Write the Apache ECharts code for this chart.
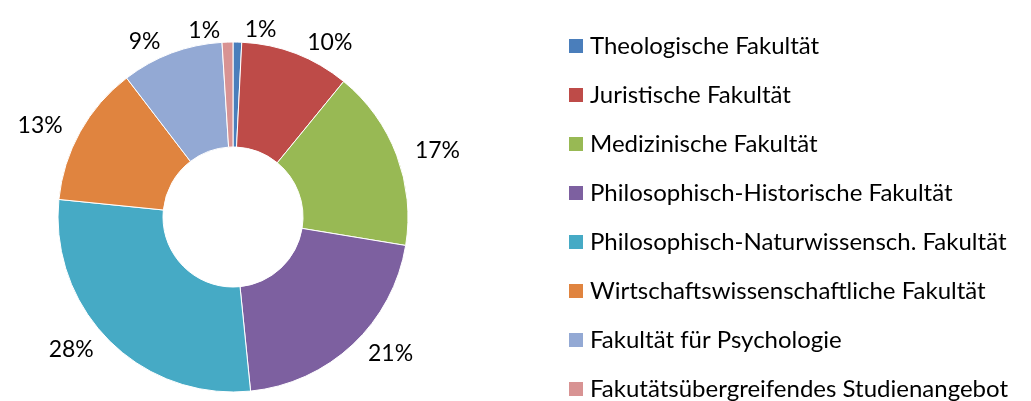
<!DOCTYPE html>
<html><head><meta charset="utf-8">
<script src="https://cdn.jsdelivr.net/npm/echarts@6/dist/echarts.min.js"></script>
<style>html,body{margin:0;padding:0;background:#fff}#c{width:1031px;height:401px}</style>
</head><body><div id="c"></div>
<script>
const categories = ["Theologische Fakultät","Juristische Fakultät","Medizinische Fakultät","Philosophisch-Historische Fakultät","Philosophisch-Naturwissensch. Fakultät","Wirtschaftswissenschaftliche Fakultät","Fakultät für Psychologie","Fakutätsübergreifendes Studienangebot"];
const values = [0.8, 10.1, 16.7, 20.8, 28.2, 13.0, 9.4, 1.0];
const labels = ["1%","10%","17%","21%","28%","13%","9%","1%"];
const colors = ["#4a7ebb","#be4b48","#98b954","#7d60a0","#46aac5","#e0843f","#93a9d4","#d89393"];
const FONT = "Lato, 'Open Sans', sans-serif";
const chart = echarts.init(document.getElementById('c'));
chart.setOption({
  animation:false,
  legend:{
    orient:'vertical', left:569, top:34, height:400, padding:0, itemWidth:14, itemHeight:14, itemGap:25,
    icon:'rect',
    textStyle:{fontFamily:FONT, fontSize:24, lineHeight:24, color:'#000', padding:[0,0,0,2]},
    itemStyle:{borderWidth:0},
    data:categories
  },
  series:[{
    type:'pie', center:[233,217], radius:[70,175], startAngle:90, clockwise:true,
    itemStyle:{borderColor:'#fff', borderWidth:1},
    label:{show:true, position:'outside', fontFamily:FONT, fontSize:23, color:'#000',
      formatter:p=>labels[p.dataIndex]},
    labelLine:{show:false, length:12, length2:2},
    avoidLabelOverlap:false,
    data:categories.map((n,i)=>({name:n, value:values[i], itemStyle:{color:colors[i]}}))
  }]
});
</script></body></html>
